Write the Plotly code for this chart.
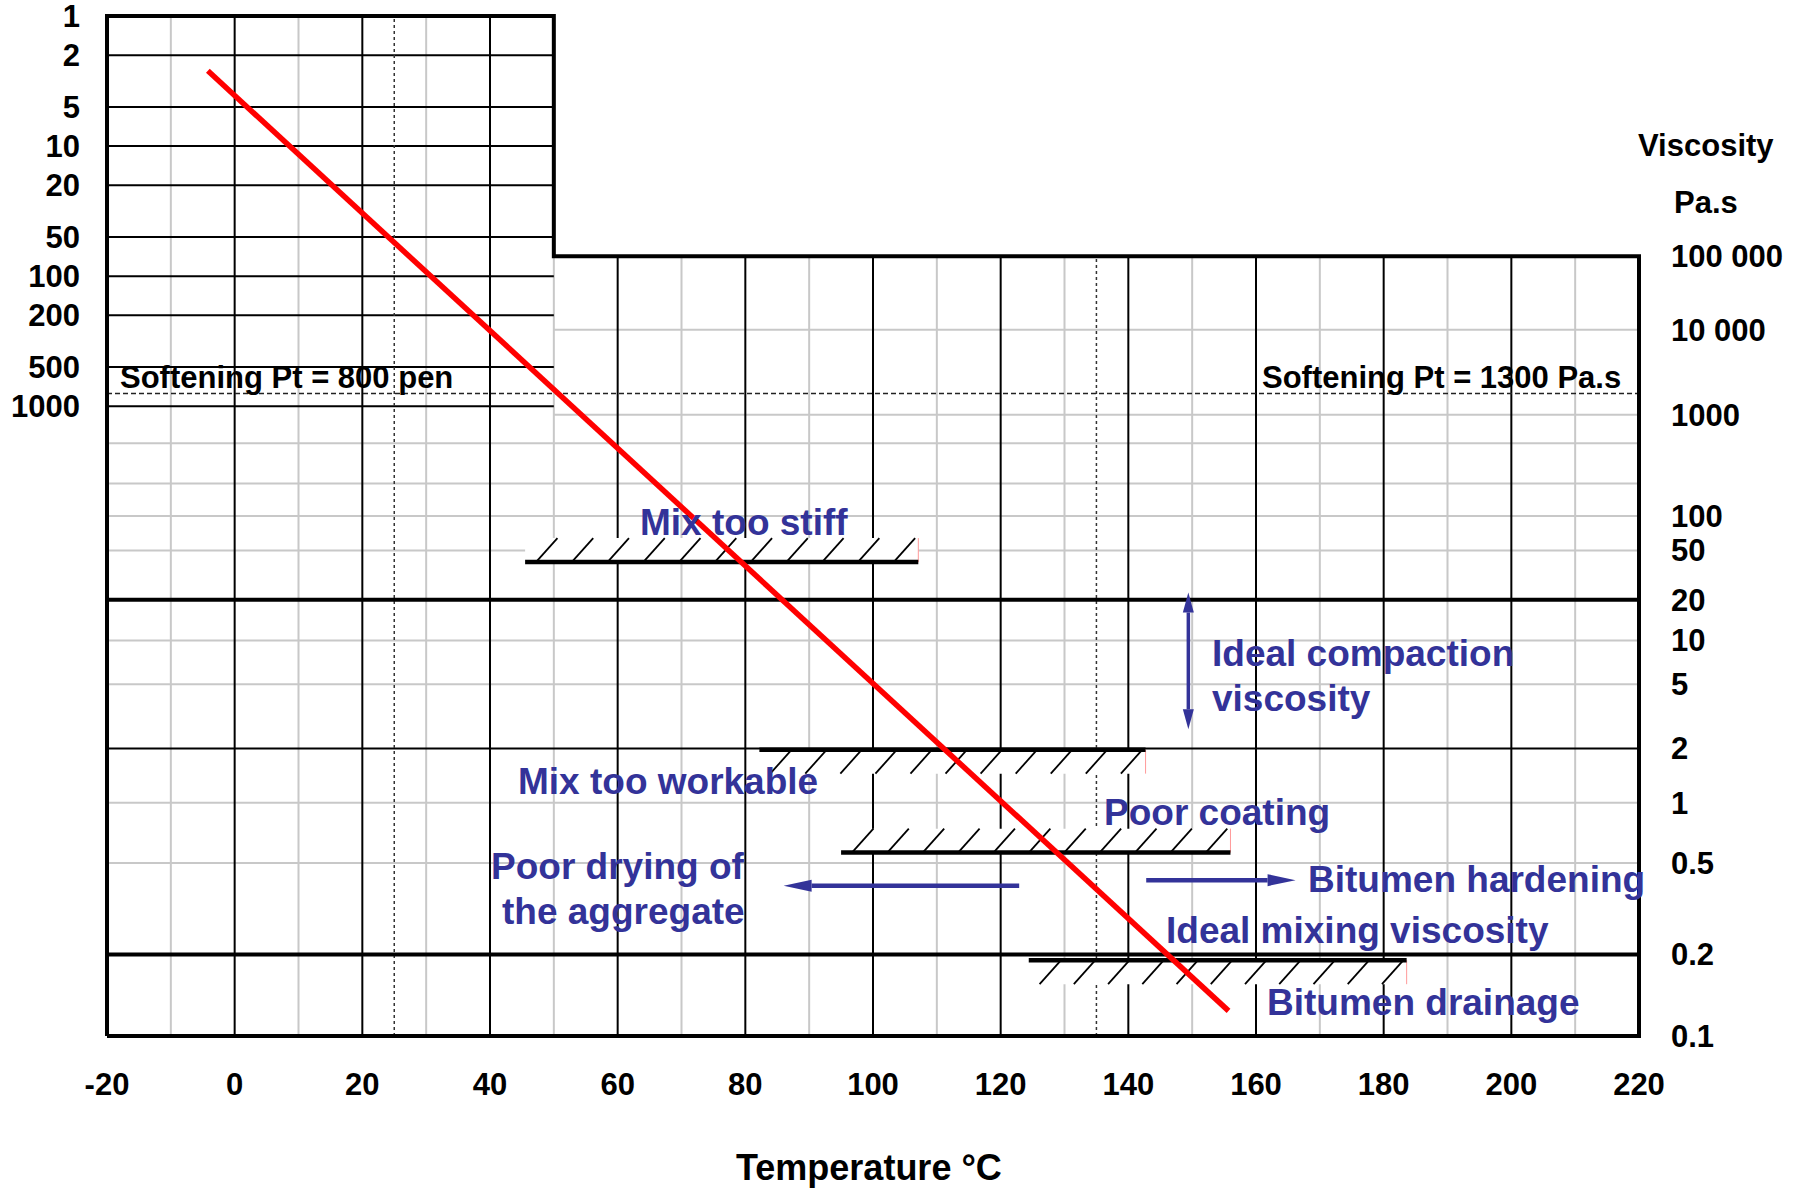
import math
import plotly.graph_objects as go

# ---------------- data ----------------
TEMP_TICKS = [-20, 0, 20, 40, 60, 80, 100, 120, 140, 160, 180, 200, 220]
TEMP_TICK_TEXT = ["-20", "0", "20", "40", "60", "80", "100", "120", "140", "160", "180", "200", "220"]
TEMP_MAJOR = [0, 20, 40, 60, 80, 100, 120, 140, 160, 180, 200]
TEMP_MINOR = [-10, 10, 30, 50, 70, 90, 110, 130, 150, 170, 190, 210]
TEMP_DOTTED_FULL = [25]
TEMP_DOTTED_VISC = [135]
TEMP_MIN, TEMP_MAX = -20, 220
PEN_BOX_TEMP = 50

PEN_TICKS = [1, 2, 5, 10, 20, 50, 100, 200, 500, 1000]
PEN_TICK_TEXT = ["1", "2", "5", "10", "20", "50", "100", "200", "500", "1000"]
PEN_LINES = [2, 5, 10, 20, 50, 100, 200, 500, 1000]

VISC_TICKS = [100000, 10000, 1000, 100, 50, 20, 10, 5, 2, 1, 0.5, 0.2, 0.1]
VISC_TICK_TEXT = ["100 000", "10 000", "1000", "100", "50", "20", "10", "5", "2", "1", "0.5", "0.2", "0.1"]
VISC_MINOR_RIGHT = [10000, 1000]
VISC_MINOR_FULL = [500, 200, 100, 50, 10, 5, 1, 0.5]
VISC_MAJOR = [2]
VISC_THICK = [20, 0.2]
VISC_TOP = 100000
VISC_BOTTOM = 0.1

SOFTENING_PEN = 800

# bitumen line
LINE_TEMP = [-4.2, 155.7]
LINE_START_PEN = 2.64
LINE_END_VISC = 0.1225

# hatched limit bars
BAR_T1 = [45.5, 82.2, 95.0, 124.4]
BAR_T2 = [107.1, 142.7, 156.0, 183.6]
BAR_VISC = [40, 1.97, 0.56, 0.19]
BAR_SIDE = [1, -1, 1, -1]   # 1 = hatching above, -1 = below

# arrows
VARROW_T = 149.4
VARROW_VISC = [22.8, 2.6]
HARROW_TAIL_T = [122.9, 142.8]
HARROW_TIP_T = [86.0, 166.2]
HARROW_VISC = [0.392, 0.416]

# blue labels: text, temperature, viscosity, anchor
LABELS = [
    ("Mix too stiff", 63.2, 88, "left"),
    ("Ideal compaction", 152.8, 8.08, "left"),
    ("viscosity", 152.8, 4.07, "left"),
    ("Mix too workable", 44.1, 1.3, "left"),
    ("Poor coating", 135.9, 0.886, "left"),
    ("Poor drying of", 80.2, 0.482, "right"),
    ("the aggregate", 80.2, 0.3026, "right"),
    ("Bitumen hardening", 167.8, 0.42, "left"),
    ("Ideal mixing viscosity", 145.6, 0.2503, "left"),
    ("Bitumen drainage", 161.4, 0.1311, "left"),
]
SOFT_LABELS = [
    ("Softening Pt = 800 pen", -18.2, 600, "left"),
    ("Softening Pt = 1300 Pa.s", 217.5, 600, "right"),
]

# ---------------- geometry (page pixels) ----------------
W, H = 1795, 1191
PX_L, PX_R = 106.5, 1639.3
PX_T, PX_B = 16.0, 1036.5
PX_1E5 = 256.4
PX_PEN1000 = 406.4
PAD = 4.0
VISC_K = 700.0

BLUE = "#333399"
LIGHT = "#c8c8c8"
FONT = "Liberation Sans, Arial, sans-serif"


def uv(v):
    return math.log10(math.log10(VISC_K * v))


U_BOT = uv(VISC_BOTTOM)
U_1E5 = uv(VISC_TOP)
PPU = (PX_B - PX_1E5) / (U_1E5 - U_BOT)
U_TOP = U_BOT + (PX_B - PX_T) / PPU
PPD = (PX_PEN1000 - PX_T) / 3.0
PEN_LOG_BOT = (PX_B - PX_T) / PPD
PPC = (PX_R - PX_L) / (TEMP_MAX - TEMP_MIN)


def pen_u(p):
    return U_TOP - math.log10(p) * PPD / PPU


def seg_trace(segs, color, width, dash=None):
    xs, ys = [], []
    for x0, y0, x1, y1 in segs:
        xs += [x0, x1, None]
        ys += [y0, y1, None]
    return go.Scatter(x=xs, y=ys, mode="lines",
                      line=dict(color=color, width=width, dash=dash),
                      hoverinfo="skip", showlegend=False)


def poly_trace(xs, ys, color):
    return go.Scatter(x=xs, y=ys, mode="lines", fill="toself", fillcolor=color,
                      line=dict(color=color, width=0), hoverinfo="skip", showlegend=False)


fig = go.Figure()

# light grid
light = []
for t in TEMP_MINOR:
    top = U_TOP if t < PEN_BOX_TEMP else U_1E5
    light.append((t, U_BOT, t, top))
for v in VISC_MINOR_RIGHT:
    light.append((PEN_BOX_TEMP, uv(v), TEMP_MAX, uv(v)))
for v in VISC_MINOR_FULL:
    light.append((TEMP_MIN, uv(v), TEMP_MAX, uv(v)))
fig.add_trace(seg_trace(light, LIGHT, 2))

# black grid
black = []
for t in TEMP_MAJOR:
    top = U_TOP if t < PEN_BOX_TEMP else U_1E5
    black.append((t, U_BOT, t, top))
for p in PEN_LINES:
    black.append((TEMP_MIN, pen_u(p), PEN_BOX_TEMP, pen_u(p)))
for v in VISC_MAJOR:
    black.append((TEMP_MIN, uv(v), TEMP_MAX, uv(v)))
fig.add_trace(seg_trace(black, "#000000", 2))

# dotted test temperatures
dots = [(t, U_BOT, t, U_TOP) for t in TEMP_DOTTED_FULL]
dots += [(t, U_BOT, t, U_1E5) for t in TEMP_DOTTED_VISC]
fig.add_trace(seg_trace(dots, "#333333", 1.5, "dot"))

# softening point dashed line
fig.add_trace(seg_trace([(TEMP_MIN, pen_u(SOFTENING_PEN), TEMP_MAX, pen_u(SOFTENING_PEN))],
                        "#222222", 1.5, "5px,3px"))

# thick lines and border
thick = [(TEMP_MIN, uv(v), TEMP_MAX, uv(v)) for v in VISC_THICK]
fig.add_trace(seg_trace(thick, "#000000", 4))
fig.add_trace(go.Scatter(
    x=[TEMP_MIN, TEMP_MIN, PEN_BOX_TEMP, PEN_BOX_TEMP, TEMP_MAX, TEMP_MAX, TEMP_MIN],
    y=[U_BOT, U_TOP, U_TOP, U_1E5, U_1E5, U_BOT, U_BOT],
    mode="lines", line=dict(color="#000000", width=4), hoverinfo="skip", showlegend=False))

# hatched bars
HATCH_H = 24.0
HATCH_DX = 21.5
hatch_segs, pink_segs, bar_segs = [], [], []
for t1, t2, v, side in zip(BAR_T1, BAR_T2, BAR_VISC, BAR_SIDE):
    u0 = uv(v)
    h = side * HATCH_H / PPU
    lo, hi = min(u0, u0 + h), max(u0, u0 + h)
    fig.add_trace(poly_trace([t1, t2, t2, t1, t1], [lo, lo, hi, hi, lo], "#ffffff"))
    dx = HATCH_DX / PPC
    start = t1 + 1.7
    step = (t2 - 0.5 - dx - start) / 10.0
    for k in range(11):
        xb = start + k * step
        hatch_segs.append((xb, lo, xb + dx, hi))
    pink_segs.append((t2, lo, t2, hi))
    bar_segs.append((t1, u0, t2, u0))
fig.add_trace(seg_trace(hatch_segs, "#000000", 1.8))
fig.add_trace(seg_trace(pink_segs, "#ff9a9a", 1))
fig.add_trace(seg_trace(bar_segs, "#000000", 4.5))

# arrows
HEAD_LEN = 28.0
HEAD_HW = 6.0
shafts = []
for tail, tip, v in zip(HARROW_TAIL_T, HARROW_TIP_T, HARROW_VISC):
    u0 = uv(v)
    s = 1 if tip > tail else -1
    base = tip - s * HEAD_LEN / PPC
    shafts.append((tail, u0, base, u0))
    fig.add_trace(poly_trace([tip, base, base, tip],
                             [u0, u0 + HEAD_HW / PPU, u0 - HEAD_HW / PPU, u0], BLUE))
fig.add_trace(seg_trace(shafts, BLUE, 4.5))

VHEAD_LEN = 20.0
VHEAD_HW = 5.5
ut, ub = uv(VARROW_VISC[0]), uv(VARROW_VISC[1])
fig.add_trace(seg_trace([(VARROW_T, ut - VHEAD_LEN / PPU, VARROW_T, ub + VHEAD_LEN / PPU)], BLUE, 3.5))
for tipu, sgn in ((ut, -1), (ub, 1)):
    bu = tipu + sgn * VHEAD_LEN / PPU
    fig.add_trace(poly_trace([VARROW_T, VARROW_T - VHEAD_HW / PPC, VARROW_T + VHEAD_HW / PPC, VARROW_T],
                             [tipu, bu, bu, tipu], BLUE))

# bitumen line
fig.add_trace(go.Scatter(x=LINE_TEMP, y=[pen_u(LINE_START_PEN), uv(LINE_END_VISC)],
                         mode="lines", line=dict(color="#ff0000", width=5.5),
                         hoverinfo="skip", showlegend=False))

# anchor trace for the penetration axis
fig.add_trace(go.Scatter(x=[TEMP_TICKS[0]], y=[PEN_TICKS[0]], yaxis="y2", mode="lines",
                         hoverinfo="skip", showlegend=False))

annotations = []
for text, t, v, anchor in LABELS:
    annotations.append(dict(text=text, x=t, y=uv(v), xref="x", yref="y", showarrow=False,
                            xanchor=anchor, yanchor="middle",
                            font=dict(family=FONT, size=37, color=BLUE, weight="bold")))
for text, t, p, anchor in SOFT_LABELS:
    annotations.append(dict(text=text, x=t, y=pen_u(p), xref="x", yref="y", showarrow=False,
                            xanchor=anchor, yanchor="middle",
                            font=dict(family=FONT, size=31, color="#000000", weight="bold")))
annotations.append(dict(text="Viscosity", xref="paper", yref="paper", x=1, y=1,
                        xshift=1706 - (PX_R + PAD), yshift=-(145 - (PX_T - PAD)),
                        showarrow=False, xanchor="center", yanchor="middle",
                        font=dict(family=FONT, size=31, color="#000000", weight="bold")))
annotations.append(dict(text="Pa.s", xref="paper", yref="paper", x=1, y=1,
                        xshift=1706 - (PX_R + PAD), yshift=-(202 - (PX_T - PAD)),
                        showarrow=False, xanchor="center", yanchor="middle",
                        font=dict(family=FONT, size=31, color="#000000", weight="bold")))
annotations.append(dict(text="Temperature °C", xref="x", yref="paper", x=99.4, y=0,
                        yshift=-(1168 - (PX_B + PAD)),
                        showarrow=False, xanchor="center", yanchor="middle",
                        font=dict(family=FONT, size=36, color="#000000", weight="bold")))

tickfont = dict(family=FONT, size=31, color="#000000", weight="bold")
fig.update_layout(
    width=W, height=H,
    margin=dict(l=PX_L - PAD, r=W - (PX_R + PAD),
                t=PX_T - PAD, b=H - (PX_B + PAD), autoexpand=False),
    paper_bgcolor="#ffffff", plot_bgcolor="#ffffff",
    showlegend=False, hovermode=False,
    font=dict(family=FONT),
    xaxis=dict(range=[TEMP_MIN - PAD / PPC, TEMP_MAX + PAD / PPC],
               tickmode="array", tickvals=TEMP_TICKS, ticktext=TEMP_TICK_TEXT,
               showgrid=False, zeroline=False, showline=False, ticks="",
               tickfont=tickfont, ticklabelstandoff=23, fixedrange=True),
    yaxis=dict(range=[U_BOT - PAD / PPU, U_TOP + PAD / PPU], side="right",
               tickmode="array", tickvals=[uv(v) for v in VISC_TICKS], ticktext=VISC_TICK_TEXT,
               showgrid=False, zeroline=False, showline=False, ticks="",
               tickfont=tickfont, ticklabelstandoff=27, fixedrange=True,
               ticklabeloverflow="allow"),
    yaxis2=dict(type="log", overlaying="y", side="left", anchor="x",
                range=[PEN_LOG_BOT + PAD / PPD, -PAD / PPD],
                tickmode="array", tickvals=PEN_TICKS, ticktext=PEN_TICK_TEXT,
                showgrid=False, zeroline=False, showline=False, ticks="",
                tickfont=tickfont, ticklabelstandoff=22, fixedrange=True,
                ticklabeloverflow="allow"),
    annotations=annotations,
)

fig.write_html("out.html",
               config={"displayModeBar": False},
               post_script="document.body.style.margin='0';document.body.style.overflow='hidden';")
